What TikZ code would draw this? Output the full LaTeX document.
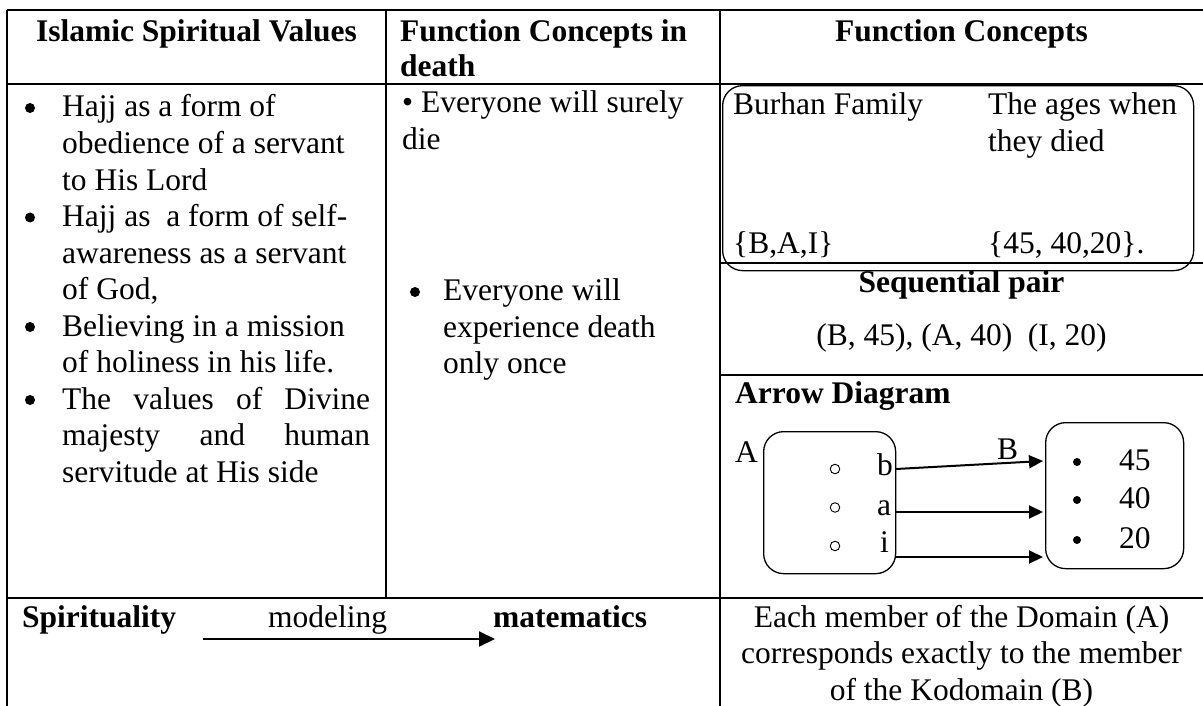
\documentclass[tikz,border=0pt]{standalone}
\usepackage{fontspec}
\setmainfont{Liberation Serif}
\usetikzlibrary{arrows.meta}
\tikzset{
  txt/.style={anchor=base west, inner sep=0pt, font=\fontsize{31.5}{36.5}\selectfont},
  txtc/.style={anchor=base, inner sep=0pt, font=\fontsize{31.5}{36.5}\selectfont},
  bold/.style={font=\fontsize{31.5}{36.5}\selectfont\bfseries},
  rule/.style={line width=2pt},
  bul/.style={circle, fill=black, inner sep=0pt, minimum size=10pt},
  smallbul/.style={circle, fill=black, inner sep=0pt, minimum size=8pt},
  hollow/.style={circle, draw=black, line width=0.9pt, inner sep=0pt, minimum size=9.5pt},
  setbox/.style={draw, rounded corners=20pt, line width=1.3pt, inner sep=0pt, anchor=north west},
  arr/.style={line width=2pt, -{Triangle[length=14pt,width=13pt]}},
}
\begin{document}
\begin{tikzpicture}[x=1pt,y=-1pt]
\useasboundingbox (0,0) rectangle (1203,706);
% table grid
\draw[rule] (7,10) -- (1203,10);
\draw[rule] (7,84) -- (1203,84);
\draw[rule] (720,263) -- (1203,263);
\draw[rule] (720,375) -- (1203,375);
\draw[rule] (7,598) -- (1203,598);
\draw[rule] (7,10) -- (7,706);
\draw[rule] (386,10) -- (386,598);
\draw[rule] (720,10) -- (720,706);
% headers
\node[txtc, bold] (h1) at (196.5,42) {Islamic Spiritual Values};
\node[txt, bold] (h2a) at (400,42) {Function Concepts in};
\node[txt, bold] (h2b) at (400,77) {death};
\node[txtc, bold] (h3) at (961.5,42) {Function Concepts};
% column 1
\node[bul] (d1) at (30,108) {};
\node[bul] (d2) at (30,217.5) {};
\node[bul] (d3) at (30,327) {};
\node[bul] (d4) at (30,400) {};
\node[txt] (l1) at (62,117) {Hajj as a form of};
\node[txt] (l2) at (62,153.5) {obedience of a servant};
\node[txt] (l3) at (62,190) {to His Lord};
\node[txt] (l4) at (62,226.5) {Hajj as\ \ a form of self-};
\node[txt] (l5) at (62,263) {awareness as a servant};
\node[txt] (l6) at (62,299.5) {of God,};
\node[txt] (l7) at (62,336) {Believing in a mission};
\node[txt] (l8) at (62,372.5) {of holiness in his life.};
\node[txt] (l9) at (62,409) {\hbox to 308pt{The\hfill values\hfill of\hfill Divine}};
\node[txt] (l10) at (62,445.5) {\hbox to 308pt{majesty\hfill and\hfill human}};
\node[txt] (l11) at (62,482) {servitude at His side};
% column 2
\node[txt] (e1) at (402,113) {• Everyone will surely};
\node[txt] (e2) at (402,150) {die};
\node[bul] (d5) at (415,292) {};
\node[txt] (e3) at (443,300.5) {Everyone will};
\node[txt] (e4) at (443,337) {experience death};
\node[txt] (e5) at (443,373) {only once};
% column 3: Burhan box
\node[setbox, minimum width=471pt, minimum height=185pt] (fam) at (722,85) {};
\node[txt] (f1) at (733,115) {Burhan Family};
\node[txt] (f2) at (988,115) {The ages when};
\node[txt] (f3) at (988,152) {they died};
\node[txt] (f4) at (733,253) {\{B,A,I\}};
\node[txt] (f5) at (988,253) {\{45, 40,20\}.};
% sequential pair
\node[txtc, bold] (sp) at (961.5,292) {Sequential pair};
\node[txtc] (spv) at (961.5,345) {(B, 45), (A, 40)\ \ (I, 20)};
% arrow diagram
\node[txt, bold] (ad) at (735,403) {Arrow Diagram};
\node[setbox, minimum width=132pt, minimum height=142pt] (boxA) at (763,431) {};
\node[setbox, minimum width=138pt, minimum height=146pt] (boxB) at (1045,422) {};
\node[txt] (labA) at (735,462) {A};
\node[txt] (labB) at (997,459) {B};
\node[hollow] (cb) at (835,469) {};
\node[hollow] (ca) at (835,507.5) {};
\node[hollow] (ci) at (835,546) {};
\node[txt] (xb) at (877,475) {b};
\node[txt] (xa) at (877,515) {a};
\node[txt] (xi) at (880,552) {i};
\node[smallbul] (p1) at (1077,462) {};
\node[smallbul] (p2) at (1077,500) {};
\node[smallbul] (p3) at (1077,540) {};
\node[txt] (n45) at (1119,470) {45};
\node[txt] (n40) at (1119,508) {40};
\node[txt] (n20) at (1119,548) {20};
\coordinate (sb) at (896,469);
\coordinate (sa) at (896,512);
\coordinate (si) at (896,557);
\coordinate (t45) at (1043,461);
\coordinate (t40) at (1043,512);
\coordinate (t20) at (1043,557);
\draw[arr] (sb) -- (t45);
\draw[arr] (sa) -- (t40);
\draw[arr] (si) -- (t20);
% bottom row
\node[txt, bold] (spi) at (22,627) {Spirituality};
\node[txt] (mod) at (268,627) {modeling};
\node[txt, bold] (mat) at (493,627) {matematics};
\coordinate (m0) at (203,639);
\coordinate (m1) at (495,639);
\draw[line width=2pt, -{Triangle[length=16pt,width=15pt]}] (m0) -- (m1);
\node[txtc] (c1) at (961.5,627) {Each member of the Domain (A)};
\node[txtc] (c2) at (961.5,663.5) {corresponds exactly to the member};
\node[txtc] (c3) at (961.5,700) {of the Kodomain (B)};
\end{tikzpicture}
\end{document}
